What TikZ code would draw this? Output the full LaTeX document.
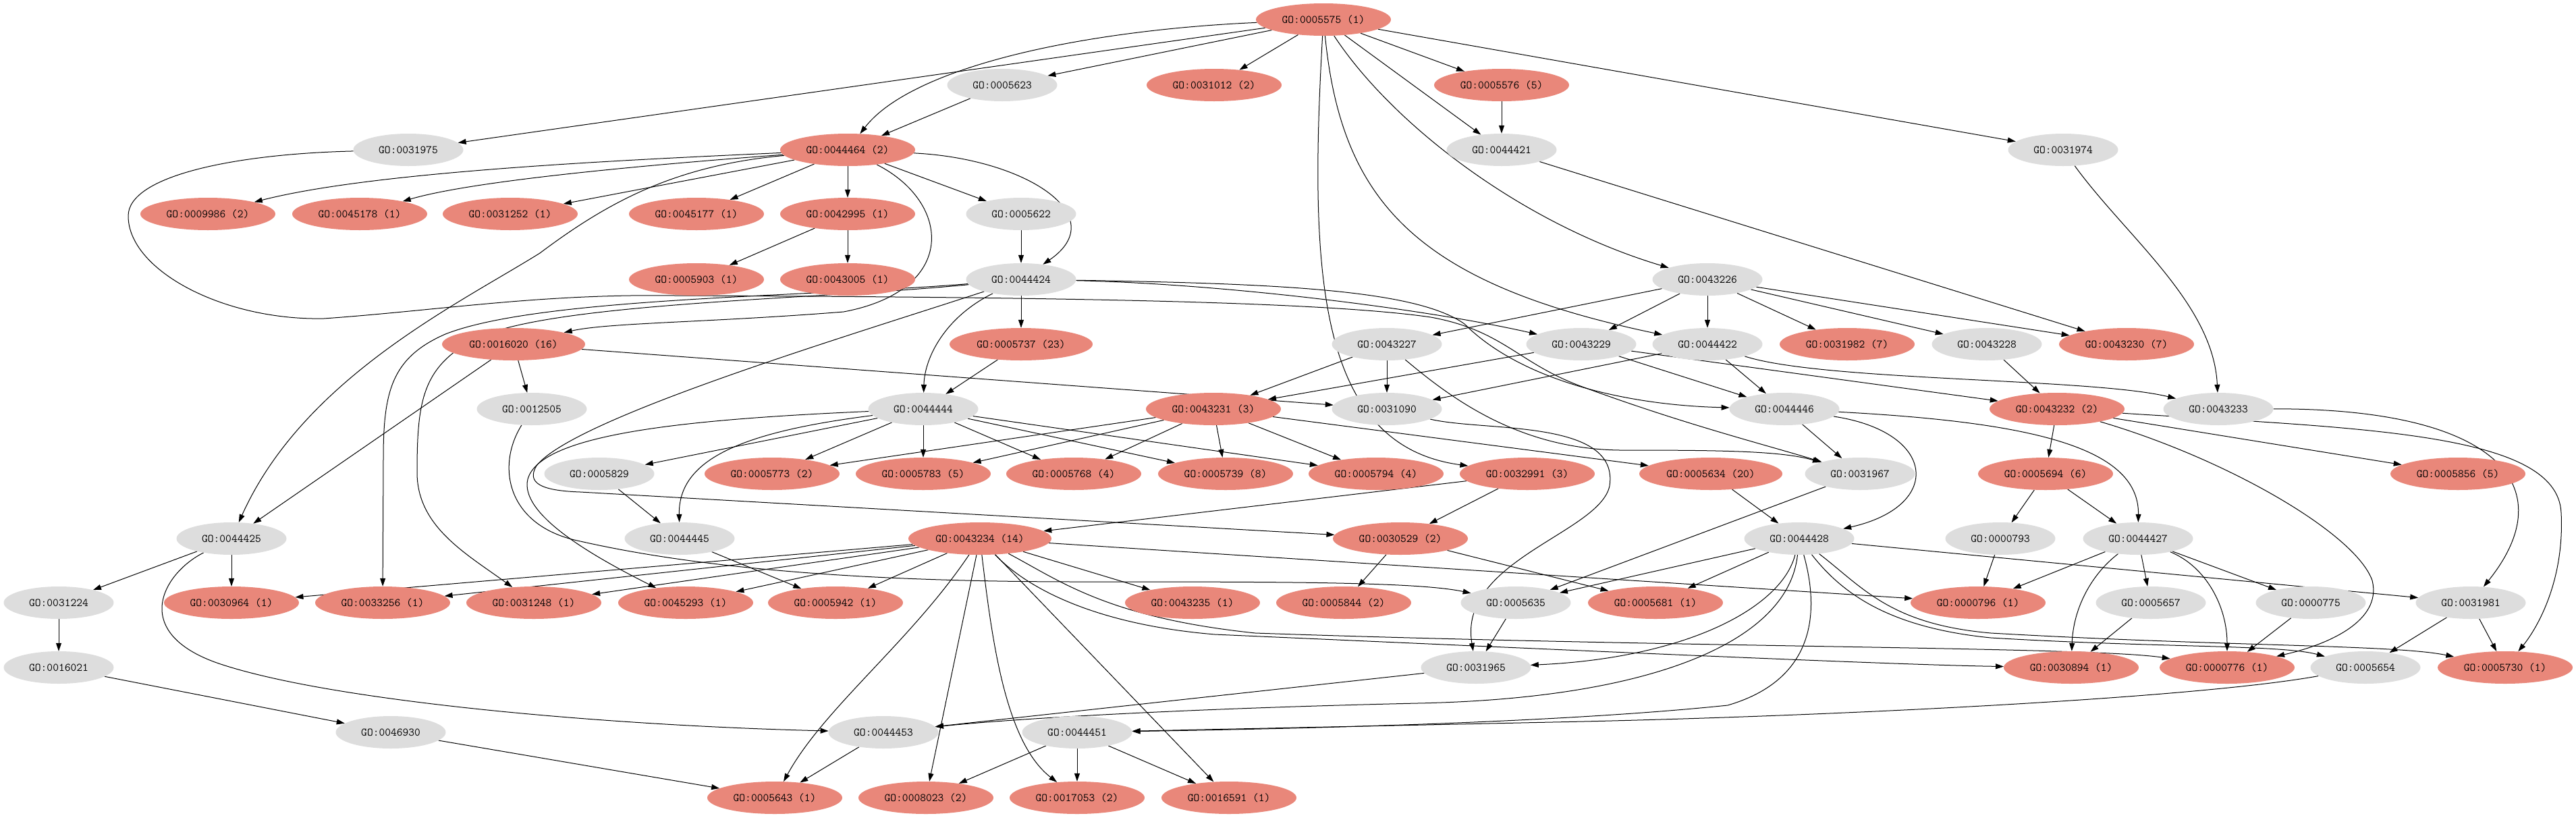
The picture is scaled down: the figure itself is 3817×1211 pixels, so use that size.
\documentclass[tikz,border=0pt]{standalone}
\usepackage{tikz}
\usetikzlibrary{arrows.meta,backgrounds,shapes.geometric}
\definecolor{hitcol}{RGB}{233,135,122}
\definecolor{nohitcol}{RGB}{221,221,221}
\tikzset{
gonode/.style={ellipse,inner sep=0pt,minimum height=48pt,font=\fontsize{17}{20}\selectfont\ttfamily},
hit/.style={gonode,fill=hitcol,minimum width=200pt},
hitwide/.style={gonode,fill=hitcol,minimum width=212pt},
nohit/.style={gonode,fill=nohitcol,minimum width=163pt},
golink/.style={-{Triangle[length=12pt,width=8pt]},line width=1pt}
}

\begin{document}
\begin{tikzpicture}[x=1pt,y=-1pt]
\useasboundingbox (0,0) rectangle (3817,1211);
\node[hit] (go5575) at (1961,29) {GO:0005575 (1)};
\node[nohit] (go5623) at (1485,126) {GO:0005623};
\node[hit] (go31012) at (1799,126) {GO:0031012 (2)};
\node[hit] (go5576) at (2225,126) {GO:0005576 (5)};
\node[nohit] (go31975) at (605,222) {GO:0031975};
\node[hit] (go44464) at (1256,222) {GO:0044464 (2)};
\node[nohit] (go44421) at (2225,222) {GO:0044421};
\node[nohit] (go31974) at (3057,222) {GO:0031974};
\node[hit] (go9986) at (308,317) {GO:0009986 (2)};
\node[hit] (go45178) at (533,317) {GO:0045178 (1)};
\node[hit] (go31252) at (756,317) {GO:0031252 (1)};
\node[hit] (go45177) at (1032,317) {GO:0045177 (1)};
\node[hit] (go42995) at (1256,317) {GO:0042995 (1)};
\node[nohit] (go5622) at (1513,317) {GO:0005622};
\node[hit] (go5903) at (1032,414) {GO:0005903 (1)};
\node[hit] (go43005) at (1256,414) {GO:0043005 (1)};
\node[nohit] (go44424) at (1513,414) {GO:0044424};
\node[nohit] (go43226) at (2530,414) {GO:0043226};
\node[hitwide] (go16020) at (761,510) {GO:0016020 (16)};
\node[hitwide] (go5737) at (1513,510) {GO:0005737 (23)};
\node[nohit] (go43227) at (2055,510) {GO:0043227};
\node[nohit] (go43229) at (2343,510) {GO:0043229};
\node[nohit] (go44422) at (2530,510) {GO:0044422};
\node[hit] (go31982) at (2737,510) {GO:0031982 (7)};
\node[nohit] (go43228) at (2944,510) {GO:0043228};
\node[hit] (go43230) at (3151,510) {GO:0043230 (7)};
\node[nohit] (go12505) at (788,606) {GO:0012505};
\node[nohit] (go44444) at (1368,606) {GO:0044444};
\node[hit] (go43231) at (1798,606) {GO:0043231 (3)};
\node[nohit] (go31090) at (2055,606) {GO:0031090};
\node[nohit] (go44446) at (2644,606) {GO:0044446};
\node[hit] (go43232) at (3048,606) {GO:0043232 (2)};
\node[nohit] (go43233) at (3287,606) {GO:0043233};
\node[nohit] (go5829) at (888,702) {GO:0005829};
\node[hit] (go5773) at (1144,702) {GO:0005773 (2)};
\node[hit] (go5783) at (1368,702) {GO:0005783 (5)};
\node[hit] (go5768) at (1591,702) {GO:0005768 (4)};
\node[hit] (go5739) at (1816,702) {GO:0005739 (8)};
\node[hit] (go5794) at (2039,702) {GO:0005794 (4)};
\node[hit] (go32991) at (2263,702) {GO:0032991 (3)};
\node[hitwide] (go5634) at (2535,702) {GO:0005634 (20)};
\node[nohit] (go31967) at (2756,702) {GO:0031967};
\node[hit] (go5694) at (3031,702) {GO:0005694 (6)};
\node[hit] (go5856) at (3642,702) {GO:0005856 (5)};
\node[nohit] (go44425) at (343,798) {GO:0044425};
\node[nohit] (go44445) at (1007,798) {GO:0044445};
\node[hitwide] (go43234) at (1452,798) {GO:0043234 (14)};
\node[hit] (go30529) at (2075,798) {GO:0030529 (2)};
\node[nohit] (go44428) at (2666,798) {GO:0044428};
\node[nohit] (go793) at (2964,798) {GO:0000793};
\node[nohit] (go44427) at (3168,798) {GO:0044427};
\node[nohit] (go31224) at (87,893) {GO:0031224};
\node[hit] (go30964) at (343,893) {GO:0030964 (1)};
\node[hit] (go33256) at (567,893) {GO:0033256 (1)};
\node[hit] (go31248) at (791,893) {GO:0031248 (1)};
\node[hit] (go45293) at (1016,893) {GO:0045293 (1)};
\node[hit] (go5942) at (1238,893) {GO:0005942 (1)};
\node[hit] (go43235) at (1767,893) {GO:0043235 (1)};
\node[hit] (go5844) at (1991,893) {GO:0005844 (2)};
\node[nohit] (go5635) at (2246,893) {GO:0005635};
\node[hit] (go5681) at (2453,893) {GO:0005681 (1)};
\node[hit] (go796) at (2931,893) {GO:0000796 (1)};
\node[nohit] (go5657) at (3187,893) {GO:0005657};
\node[nohit] (go775) at (3424,893) {GO:0000775};
\node[nohit] (go31981) at (3661,893) {GO:0031981};
\node[nohit] (go16021) at (87,989) {GO:0016021};
\node[nohit] (go31965) at (2187,989) {GO:0031965};
\node[hit] (go30894) at (3069,989) {GO:0030894 (1)};
\node[hit] (go776) at (3300,989) {GO:0000776 (1)};
\node[nohit] (go5654) at (3505,989) {GO:0005654};
\node[hit] (go5730) at (3712,989) {GO:0005730 (1)};
\node[nohit] (go46930) at (579,1085) {GO:0046930};
\node[nohit] (go44453) at (1309,1085) {GO:0044453};
\node[nohit] (go44451) at (1596,1085) {GO:0044451};
\node[hit] (go5643) at (1148,1182) {GO:0005643 (1)};
\node[hit] (go8023) at (1372,1182) {GO:0008023 (2)};
\node[hit] (go17053) at (1596,1182) {GO:0017053 (2)};
\node[hit] (go16591) at (1821,1182) {GO:0016591 (1)};
\begin{scope}[on background layer]
\draw[golink] (go5575) -- (go31975);
\draw[golink] (go5575) .. controls (1600,45) and (1350,100) .. (go44464);
\draw[golink] (go5575) -- (go5623);
\draw[golink] (go5575) -- (go31012);
\draw[golink] (go5575) .. controls (1940,400) and (1950,660) .. (go32991);
\draw[golink] (go5575) .. controls (1988,300) and (2100,420) .. (go44422);
\draw[golink] (go5575) .. controls (2060,180) and (2250,330) .. (go43226);
\draw[golink] (go5575) -- (go44421);
\draw[golink] (go5575) -- (go5576);
\draw[golink] (go5575) -- (go31974);
\draw[golink] (go5623) -- (go44464);
\draw[golink] (go5576) -- (go44421);
\draw[golink] (go44421) -- (go43230);
\draw[golink] (go31974) .. controls (3150,350) and (3280,450) .. (go43233);
\draw[golink] (go31975) .. controls (350,228) and (190,260) .. (190,320) .. controls (190,400) and (330,475) .. (480,472) .. controls (650,460) and (800,435) .. (1000,438) .. controls (1500,440) and (1950,445) .. (2120,470) .. controls (2230,490) and (2250,540) .. (2350,575) .. controls (2500,630) and (2620,660) .. (go31967);
\draw[golink] (go44464) .. controls (900,238) and (550,255) .. (go9986);
\draw[golink] (go44464) .. controls (950,245) and (700,268) .. (go45178);
\draw[golink] (go44464) -- (go31252);
\draw[golink] (go44464) -- (go45177);
\draw[golink] (go44464) -- (go42995);
\draw[golink] (go44464) -- (go5622);
\draw[golink] (go44464) .. controls (1520,235) and (1650,320) .. (go44424);
\draw[golink] (go44464) .. controls (1000,245) and (900,300) .. (800,375) .. controls (680,450) and (450,560) .. (go44425);
\draw[golink] (go44464) .. controls (1410,300) and (1420,430) .. (1250,462) .. controls (1050,478) and (900,478) .. (go16020);
\draw[golink] (go42995) -- (go5903);
\draw[golink] (go42995) -- (go43005);
\draw[golink] (go5622) -- (go44424);
\draw[golink] (go44424) -- (go5737);
\draw[golink] (go44424) .. controls (1400,470) and (1370,530) .. (go44444);
\draw[golink] (go44424) .. controls (1800,420) and (2100,455) .. (go43229);
\draw[golink] (go44424) .. controls (1900,420) and (2100,430) .. (2170,480) .. controls (2250,560) and (2400,600) .. (go44446);
\draw[golink] (go44424) .. controls (1200,440) and (800,440) .. (660,495) .. controls (580,530) and (568,580) .. (568,680) -- (go33256);
\draw[golink] (go44424) .. controls (1200,445) and (780,448) .. (690,510) .. controls (625,550) and (618,600) .. (618,700) .. controls (618,780) and (690,820) .. (go31248);
\draw[golink] (go44424) .. controls (1250,500) and (850,620) .. (795,690) .. controls (780,715) and (800,727) .. (860,729) -- (go30529);
\draw[golink] (go5737) -- (go44444);
\draw[golink] (go43226) -- (go43227);
\draw[golink] (go43226) -- (go43229);
\draw[golink] (go43226) -- (go44422);
\draw[golink] (go43226) -- (go31982);
\draw[golink] (go43226) -- (go43228);
\draw[golink] (go43226) -- (go43230);
\draw[golink] (go43227) -- (go43231);
\draw[golink] (go43227) -- (go31090);
\draw[golink] (go43227) .. controls (2150,590) and (2250,665) .. (2400,667) .. controls (2550,667) and (2640,668) .. (go31967);
\draw[golink] (go43229) -- (go43231);
\draw[golink] (go43229) -- (go44446);
\draw[golink] (go43229) -- (go43232);
\draw[golink] (go44422) -- (go31090);
\draw[golink] (go44422) -- (go44446);
\draw[golink] (go44422) .. controls (2700,565) and (3100,560) .. (go43233);
\draw[golink] (go43228) -- (go43232);
\draw[golink] (go16020) -- (go12505);
\draw[golink] (go16020) -- (go31090);
\draw[golink] (go16020) -- (go44425);
\draw[golink] (go12505) .. controls (735,690) and (750,780) .. (860,802) .. controls (1050,845) and (1300,862) .. (1600,862) .. controls (1900,862) and (2100,862) .. (go5635);
\draw[golink] (go44444) -- (go5829);
\draw[golink] (go44444) .. controls (1100,640) and (1005,680) .. (go44445);
\draw[golink] (go44444) .. controls (1000,622) and (800,645) .. (782,710) .. controls (770,760) and (870,820) .. (go45293);
\draw[golink] (go44444) -- (go5773);
\draw[golink] (go44444) -- (go5783);
\draw[golink] (go44444) -- (go5768);
\draw[golink] (go44444) -- (go5739);
\draw[golink] (go44444) -- (go5794);
\draw[golink] (go43231) -- (go5773);
\draw[golink] (go43231) -- (go5783);
\draw[golink] (go43231) -- (go5768);
\draw[golink] (go43231) -- (go5739);
\draw[golink] (go43231) -- (go5794);
\draw[golink] (go43231) -- (go5634);
\draw[golink] (go31090) .. controls (2200,640) and (2400,620) .. (2385,720) .. controls (2370,790) and (2160,830) .. (go31965);
\draw[golink] (go44446) -- (go31967);
\draw[golink] (go44446) .. controls (2870,640) and (2880,750) .. (go44428);
\draw[golink] (go44446) .. controls (3000,625) and (3170,660) .. (go44427);
\draw[golink] (go43232) -- (go5694);
\draw[golink] (go43232) -- (go5856);
\draw[golink] (go43232) .. controls (3500,635) and (3790,640) .. (3795,760) .. controls (3800,860) and (3760,930) .. (go5730);
\draw[golink] (go43232) .. controls (3300,680) and (3490,790) .. (3515,860) .. controls (3530,920) and (3450,955) .. (go776);
\draw[golink] (go43233) .. controls (3700,605) and (3800,720) .. (go31981);
\draw[golink] (go5694) -- (go793);
\draw[golink] (go5694) -- (go44427);
\draw[golink] (go5634) -- (go44428);
\draw[golink] (go31967) -- (go5635);
\draw[golink] (go32991) -- (go43234);
\draw[golink] (go32991) -- (go30529);
\draw[golink] (go30529) -- (go5844);
\draw[golink] (go30529) -- (go5681);
\draw[golink] (go5829) -- (go44445);
\draw[golink] (go44445) -- (go5942);
\draw[golink] (go43234) -- (go30964);
\draw[golink] (go43234) -- (go33256);
\draw[golink] (go43234) -- (go31248);
\draw[golink] (go43234) -- (go45293);
\draw[golink] (go43234) -- (go5942);
\draw[golink] (go43234) -- (go43235);
\draw[golink] (go43234) -- (go796);
\draw[golink] (go43234) .. controls (1350,950) and (1220,1050) .. (go5643);
\draw[golink] (go43234) -- (go8023);
\draw[golink] (go43234) .. controls (1470,950) and (1490,1100) .. (go17053);
\draw[golink] (go43234) -- (go16591);
\draw[golink] (go43234) .. controls (1520,870) and (1620,925) .. (1800,940) .. controls (2300,962) and (2800,985) .. (go30894);
\draw[golink] (go43234) .. controls (1570,860) and (1640,915) .. (1860,938) .. controls (2500,960) and (3100,958) .. (go776);
\draw[golink] (go44428) -- (go5635);
\draw[golink] (go44428) -- (go5681);
\draw[golink] (go44428) -- (go31981);
\draw[golink] (go44428) .. controls (2640,900) and (2500,975) .. (go31965);
\draw[golink] (go44428) .. controls (2650,950) and (2450,1035) .. (2100,1042) .. controls (1750,1050) and (1500,1065) .. (go44453);
\draw[golink] (go44428) .. controls (2700,920) and (2680,1010) .. (2560,1045) .. controls (2300,1072) and (1900,1080) .. (go44451);
\draw[golink] (go44428) .. controls (2730,880) and (2800,930) .. (2950,945) .. controls (3200,960) and (3380,955) .. (go5654);
\draw[golink] (go44428) .. controls (2760,870) and (2800,925) .. (2950,938) .. controls (3300,958) and (3550,955) .. (go5730);
\draw[golink] (go44427) -- (go796);
\draw[golink] (go44427) -- (go5657);
\draw[golink] (go44427) -- (go775);
\draw[golink] (go44427) .. controls (3270,840) and (3300,900) .. (go776);
\draw[golink] (go44427) .. controls (3100,850) and (3072,900) .. (go30894);
\draw[golink] (go793) -- (go796);
\draw[golink] (go5657) -- (go30894);
\draw[golink] (go775) -- (go776);
\draw[golink] (go31981) -- (go5654);
\draw[golink] (go31981) -- (go5730);
\draw[golink] (go5654) .. controls (3250,1035) and (2700,1062) .. (2300,1070) -- (go44451);
\draw[golink] (go44425) -- (go31224);
\draw[golink] (go44425) -- (go30964);
\draw[golink] (go44425) .. controls (240,850) and (190,940) .. (330,985) .. controls (500,1040) and (900,1075) .. (go44453);
\draw[golink] (go31224) -- (go16021);
\draw[golink] (go16021) -- (go46930);
\draw[golink] (go46930) -- (go5643);
\draw[golink] (go44453) -- (go5643);
\draw[golink] (go31965) -- (go44453);
\draw[golink] (go5635) -- (go31965);
\draw[golink] (go44451) -- (go8023);
\draw[golink] (go44451) -- (go17053);
\draw[golink] (go44451) -- (go16591);
\end{scope}
\end{tikzpicture}
\end{document}
